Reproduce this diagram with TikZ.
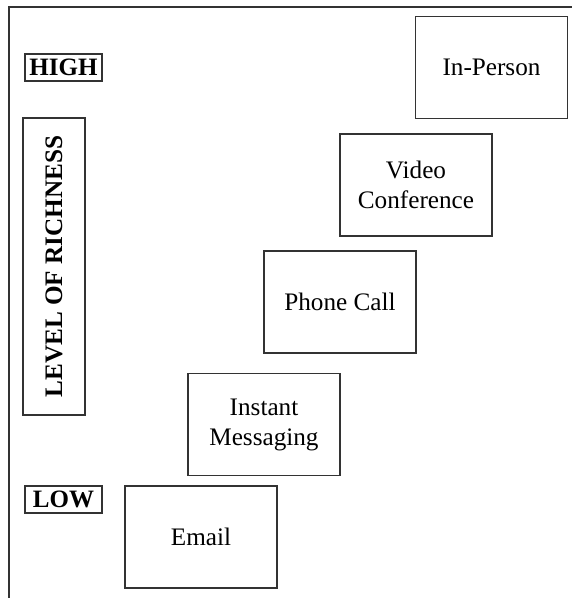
\documentclass[tikz,border=0pt]{standalone}
\usepackage{fontspec}
\setmainfont{Liberation Serif}
\begin{document}
\begin{tikzpicture}[x=1pt,y=-1pt,
  frameline/.style={line width=1.4pt,draw=black!80},
  medium/.style={draw=black!80,line width=1.4pt,minimum width=152pt,minimum height=102pt,inner sep=0pt,align=center,font=\fontsize{25.2}{30}\selectfont},
  tag/.style={draw=black!80,line width=1.4pt,minimum width=77pt,minimum height=27pt,inner sep=0pt,font=\fontsize{25}{30}\selectfont\bfseries}]
\useasboundingbox (0,0) rectangle (572,598);
\coordinate (tl) at (9,7);
\coordinate (tr) at (572,7);
\coordinate (bl) at (9,598);
\draw[frameline] (tr) -- (tl) -- (bl);
\node[tag] (high) at (63.5,67.5) {HIGH};
\node[tag] (low) at (63.5,499.5) {LOW};
\node[draw=black!80,line width=1.4pt,minimum width=62pt,minimum height=297pt,inner sep=0pt] (level) at (54,266.5) {};
\node[rotate=90,font=\fontsize{25.2}{30}\selectfont\bfseries] (leveltext) at (level.center) {LEVEL OF RICHNESS};
\node[medium] (email) at (201,537) {Email};
\node[medium] (im) at (264,424.5) {Instant\\Messaging};
\node[medium] (phone) at (340,302) {Phone Call};
\node[medium] (video) at (416,185) {Video\\Conference};
\node[medium] (person) at (491.5,67.5) {In-Person};
\end{tikzpicture}
\end{document}
